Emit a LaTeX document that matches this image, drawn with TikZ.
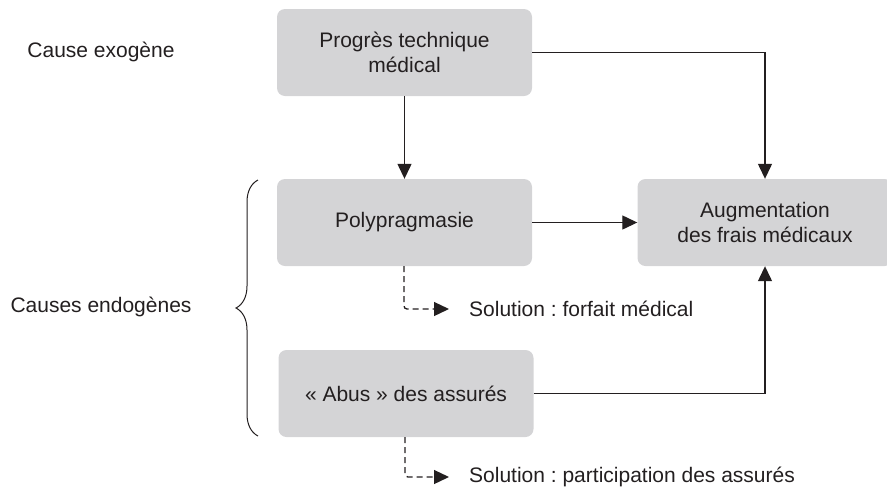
\documentclass[tikz,border=0pt]{standalone}
\usepackage{fontspec}
\setmainfont{Liberation Sans}
\usetikzlibrary{arrows.meta,decorations.pathreplacing}
\definecolor{boxgray}{RGB}{212,212,214}
\definecolor{ink}{RGB}{35,31,32}
\frenchspacing
\tikzset{
  box/.style={fill=boxgray, rounded corners=8pt, minimum width=255pt,
    minimum height=87pt, align=center, text=ink, inner sep=0pt},
  label/.style={text=ink, inner sep=0pt},
  sol/.style={text=ink, anchor=west, inner ysep=0pt, inner xsep=20pt},
  link/.style={draw=ink, line width=1.3pt,
    -{Triangle[length=15pt,width=14pt]}},
  dlink/.style={link, dash pattern=on 6pt off 4pt, rounded corners=3pt},
}
\begin{document}
\begin{tikzpicture}[x=1pt, y=-1pt, font=\fontsize{21}{25}\selectfont]
\useasboundingbox (0,0) rectangle (887,491);
\clip (0,0) rectangle (887,491);

% boxes
\node[box] (top)  at (404.5,52.5)  {Progrès technique\\médical};
\node[box] (poly) at (404.5,222.5) {Polypragmasie};
\node[box] (aug)  at (765,222.5)   {Augmentation\\des frais médicaux};
\node[box] (abus) at (406,393.5)   {« Abus » des assurés};

% side labels
\node[label] (exo)  at (101,52)  {Cause exogène};
\node[label] (endo) at (101,307) {Causes endogènes};

% proposed remedies
\node[sol] (sol1) at (449,309) {Solution : forfait médical};
\node[sol] (sol2) at (449,477) {Solution : participation des assurés};

% causal links
\draw[link] (top.south) -- (poly.north);
\draw[link] (top.east) -| (aug.north);
\draw[link] (poly.east) -- (aug.west);
\draw[link] (abus.east) -| (aug.south);

% links to the remedies
\draw[dlink] ([xshift=-0.5pt]poly.south) |- (sol1.west);
\draw[dlink] ([xshift=-1pt]abus.south) |- (sol2.west);

% brace grouping the endogenous causes
\coordinate (bt) at (258,180);
\coordinate (bb) at (258,436);
\draw[ink, line width=1pt, decorate,
  decoration={brace, amplitude=22pt, aspect=0.5}] (bb) -- (bt);
\end{tikzpicture}
\end{document}
